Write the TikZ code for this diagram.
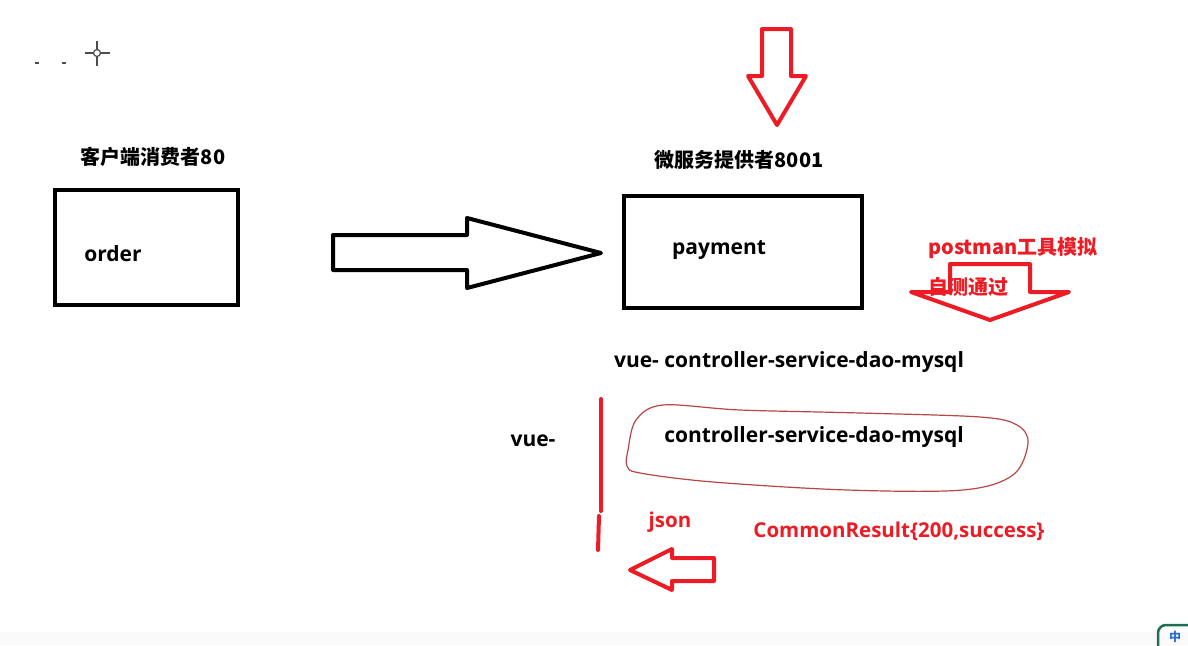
\documentclass[tikz,border=0pt]{standalone}
\usepackage{fontspec}
\setmainfont{Open Sans}
\newfontfamily\cjk{Noto Sans CJK SC}
\definecolor{myred}{RGB}{237,28,36}
\definecolor{ellred}{RGB}{185,70,70}
\definecolor{icongreen}{RGB}{30,110,80}
\definecolor{iconblue}{RGB}{40,110,200}
\begin{document}
\begin{tikzpicture}[x=1pt,y=-1pt,
  box/.style={draw=black,line width=4pt},
  lbl/.style={inner sep=0pt,font=\fontsize{21}{24}\selectfont\bfseries},
  cjklbl/.style={inner sep=0pt,font=\fontsize{20}{24}\selectfont\cjk\bfseries},
  redlbl/.style={inner sep=0pt,text=myred,font=\fontsize{20.5}{24}\selectfont\bfseries},
  redcjk/.style={inner sep=0pt,text=myred,font=\fontsize{20}{24}\selectfont\cjk\bfseries},
  blockarrow/.style={line width=4pt,line join=round},
]
\clip (0,0) rectangle (1188,645);
\fill[white] (0,0) rectangle (1188,645);
\fill[gray!4] (0,632) rectangle (1188,645);

% top-left marks
\draw[line width=1.2pt,black!70] (35,63) -- (39,63) (62,63) -- (66,63);
\coordinate (cross) at (97,53);
\draw[line width=1.2pt,black!70] (cross) circle (3.5);
\draw[line width=1.2pt,black!70] (85,53) -- (93.5,53) (100.5,53) -- (110,53) (97,41) -- (97,49.5) (97,56.5) -- (97,66);

% top red down arrow
\draw[blockarrow,myred] (762,29) -- (791,29) -- (791,76) -- (806,76) -- (777,125) -- (748,76) -- (762,76) -- cycle;

% headings
\node[cjklbl] (client) at (153,157) {客户端消费者80};
\node[cjklbl] (provider) at (739,160) {微服务提供者8001};

% boxes
\node[box,minimum width=183pt,minimum height=115pt,inner sep=0pt] (order) at (146.5,247.5) {};
\node[lbl] (ordertxt) at (113,254) {order};
\node[box,minimum width=238pt,minimum height=112pt,inner sep=0pt] (payment) at (743,252) {};
\node[lbl] (paytxt) at (719,250) {payment};

% black right arrow
\draw[blockarrow,black] (333,235) -- (467,235) -- (467,218) -- (601,253) -- (467,288) -- (467,270) -- (333,270) -- cycle;

% postman texts
\node[redcjk] (postman) at (1013,248) {postman工具模拟};
\node[redcjk] (selftest) at (968,287) {自测通过};
% red down arrow (wide)
\draw[blockarrow,myred] (950,264) -- (1030,264) -- (1030,292) -- (1069,292) -- (990,320) -- (911,292) -- (950,292) -- cycle;

% stack text
\node[lbl] (stack) at (789,362) {vue- controller-service-dao-mysql};
\node[lbl] (vue) at (533,441) {vue-};

% red vertical line
\draw[myred,line width=4pt,line cap=round] (601,399) -- (601,511);
\draw[myred,line width=4pt,line cap=round] (599,516) -- (598,550);

% hand-drawn ellipse
\draw[ellred,line width=1.2pt] plot[smooth cycle,tension=0.55] coordinates {
 (628,450) (636,420) (663,405) (740,410) (860,413) (980,417) (1017,425)
 (1028,443) (1013,475) (963,490) (847,490) (713,482) (640,473) (627,466)};
\node[lbl] (backend) at (814,437) {controller-service-dao-mysql};

% json and result
\node[redlbl] (json) at (670,522) {json};
\node[redlbl] (result) at (899,531) {CommonResult\{200,success\}};

% red left arrow
\draw[blockarrow,myred] (714,558) -- (672,558) -- (672,549) -- (630,570) -- (672,590) -- (672,581) -- (714,581) -- cycle;

% bottom-right icon
\draw[icongreen,line width=2.5pt,rounded corners=8pt] (1158,660) -- (1158,625) -- (1200,625);
\node[inner sep=0pt,text=iconblue,font=\fontsize{12}{13}\selectfont\cjk\bfseries] (icon) at (1175,637) {中};
\end{tikzpicture}
\end{document}
